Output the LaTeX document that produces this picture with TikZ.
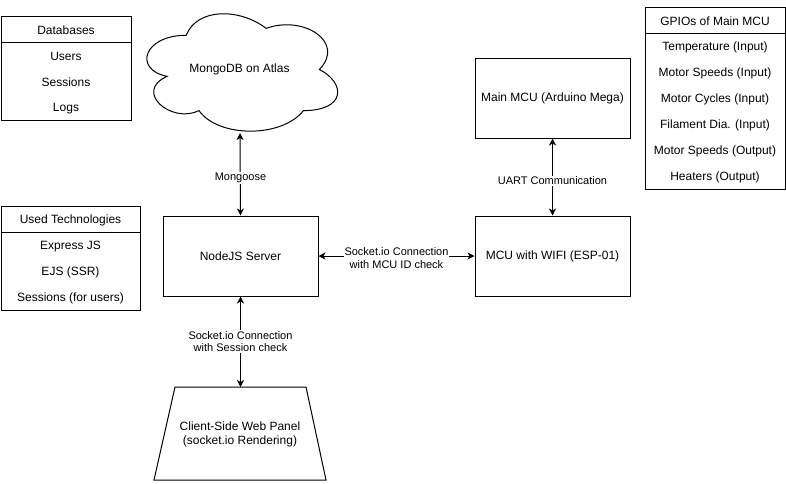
\documentclass[tikz,border=0pt]{standalone}
\usepackage{fontspec}
\setmainfont{Liberation Sans}
\usetikzlibrary{arrows.meta}
\begin{document}
\begin{tikzpicture}[x=1pt,y=-1pt, line width=1pt,
  box/.style={draw, minimum width=155pt, minimum height=80pt, inner sep=0pt, font=\fontsize{12}{14}\selectfont},
  cell/.style={inner sep=0pt, yshift=-1.5pt, font=\fontsize{12}{14}\selectfont},
  lbl/.style={fill=white, inner sep=1pt, align=center, font=\fontsize{11}{12.5}\selectfont},
  tip/.tip={Stealth[length=7pt,width=7pt,inset=2pt]},
  arr/.style={tip-tip}]
\useasboundingbox (0,0) rectangle (786,483);

% Databases table
\draw (1,16) rectangle (131,120);
\draw (1,42) -- (131,42);
\node[cell] (dbh) at (66,29) {Databases};
\node[cell] (db1) at (66,55) {Users};
\node[cell] (db2) at (66,81) {Sessions};
\node[cell] (db3) at (66,107) {Logs};

% Used Technologies table
\draw (1,206) rectangle (140,310);
\draw (1,232) -- (140,232);
\node[cell] (uth) at (70.5,219) {Used Technologies};
\node[cell] (ut1) at (70.5,245) {Express JS};
\node[cell] (ut2) at (70.5,271) {EJS (SSR)};
\node[cell] (ut3) at (70.5,297) {Sessions (for users)};

% GPIOs table
\draw (645,7) rectangle (785,189);
\draw (645,33) -- (785,33);
\node[cell] (gh) at (715,20) {GPIOs of Main MCU};
\node[cell] (g1) at (715,46) {Temperature (Input)};
\node[cell] (g2) at (715,72) {Motor Speeds (Input)};
\node[cell] (g3) at (715,98) {Motor Cycles (Input)};
\node[cell] (g4) at (715,124) {Filament Dia. (Input)};
\node[cell] (g5) at (715,150) {Motor Speeds (Output)};
\node[cell] (g6) at (715,176) {Heaters (Output)};

% Cloud
\def\cx{133}\def\cy{1}\def\cw{213}\def\ch{137}
\draw ({\cx+0.25*\cw},{\cy+0.25*\ch})
  .. controls ({\cx+0.05*\cw},{\cy+0.25*\ch}) and ({\cx},{\cy+0.5*\ch}) .. ({\cx+0.16*\cw},{\cy+0.55*\ch})
  .. controls ({\cx},{\cy+0.66*\ch}) and ({\cx+0.18*\cw},{\cy+0.9*\ch}) .. ({\cx+0.31*\cw},{\cy+0.8*\ch})
  .. controls ({\cx+0.4*\cw},{\cy+\ch}) and ({\cx+0.7*\cw},{\cy+\ch}) .. ({\cx+0.8*\cw},{\cy+0.8*\ch})
  .. controls ({\cx+\cw},{\cy+0.8*\ch}) and ({\cx+\cw},{\cy+0.6*\ch}) .. ({\cx+0.875*\cw},{\cy+0.5*\ch})
  .. controls ({\cx+\cw},{\cy+0.3*\ch}) and ({\cx+0.8*\cw},{\cy+0.1*\ch}) .. ({\cx+0.625*\cw},{\cy+0.2*\ch})
  .. controls ({\cx+0.5*\cw},{\cy+0.05*\ch}) and ({\cx+0.3*\cw},{\cy+0.05*\ch}) .. cycle;
\node[cell] (cloud) at (239.5,68) {MongoDB on Atlas};
\coordinate (cloudbot) at (240,133);

% Boxes
\node[box] (mcu) at (552.5,98) {Main MCU (Arduino Mega)};
\node[box] (esp) at (552.5,256) {MCU with WIFI (ESP-01)};
\node[box] (server) at (240.5,256) {NodeJS Server};

% Trapezoid client
\draw (175,387) -- (306,387) -- (326,480) -- (154,480) -- cycle;
\coordinate (clienttop) at (240.5,387);
\node[cell, align=center] (client) at (240,433) {Client-Side Web Panel\\(socket.io Rendering)};

% Connectors
\draw[arr] (server.north) -- (cloudbot);
\node[lbl] (lmongo) at (240.5,178) {Mongoose};
\draw[arr] (mcu.south) -- (esp.north);
\node[lbl] (luart) at (552.5,181) {UART Communication};
\draw[arr] (server.east) -- (esp.west);
\node[lbl] (lsock) at (396.5,258) {Socket.io Connection\\with MCU ID check};
\draw[arr] (server.south) -- (clienttop);
\node[lbl] (lsess) at (240.5,341.5) {Socket.io Connection\\with Session check};
\end{tikzpicture}
\end{document}
